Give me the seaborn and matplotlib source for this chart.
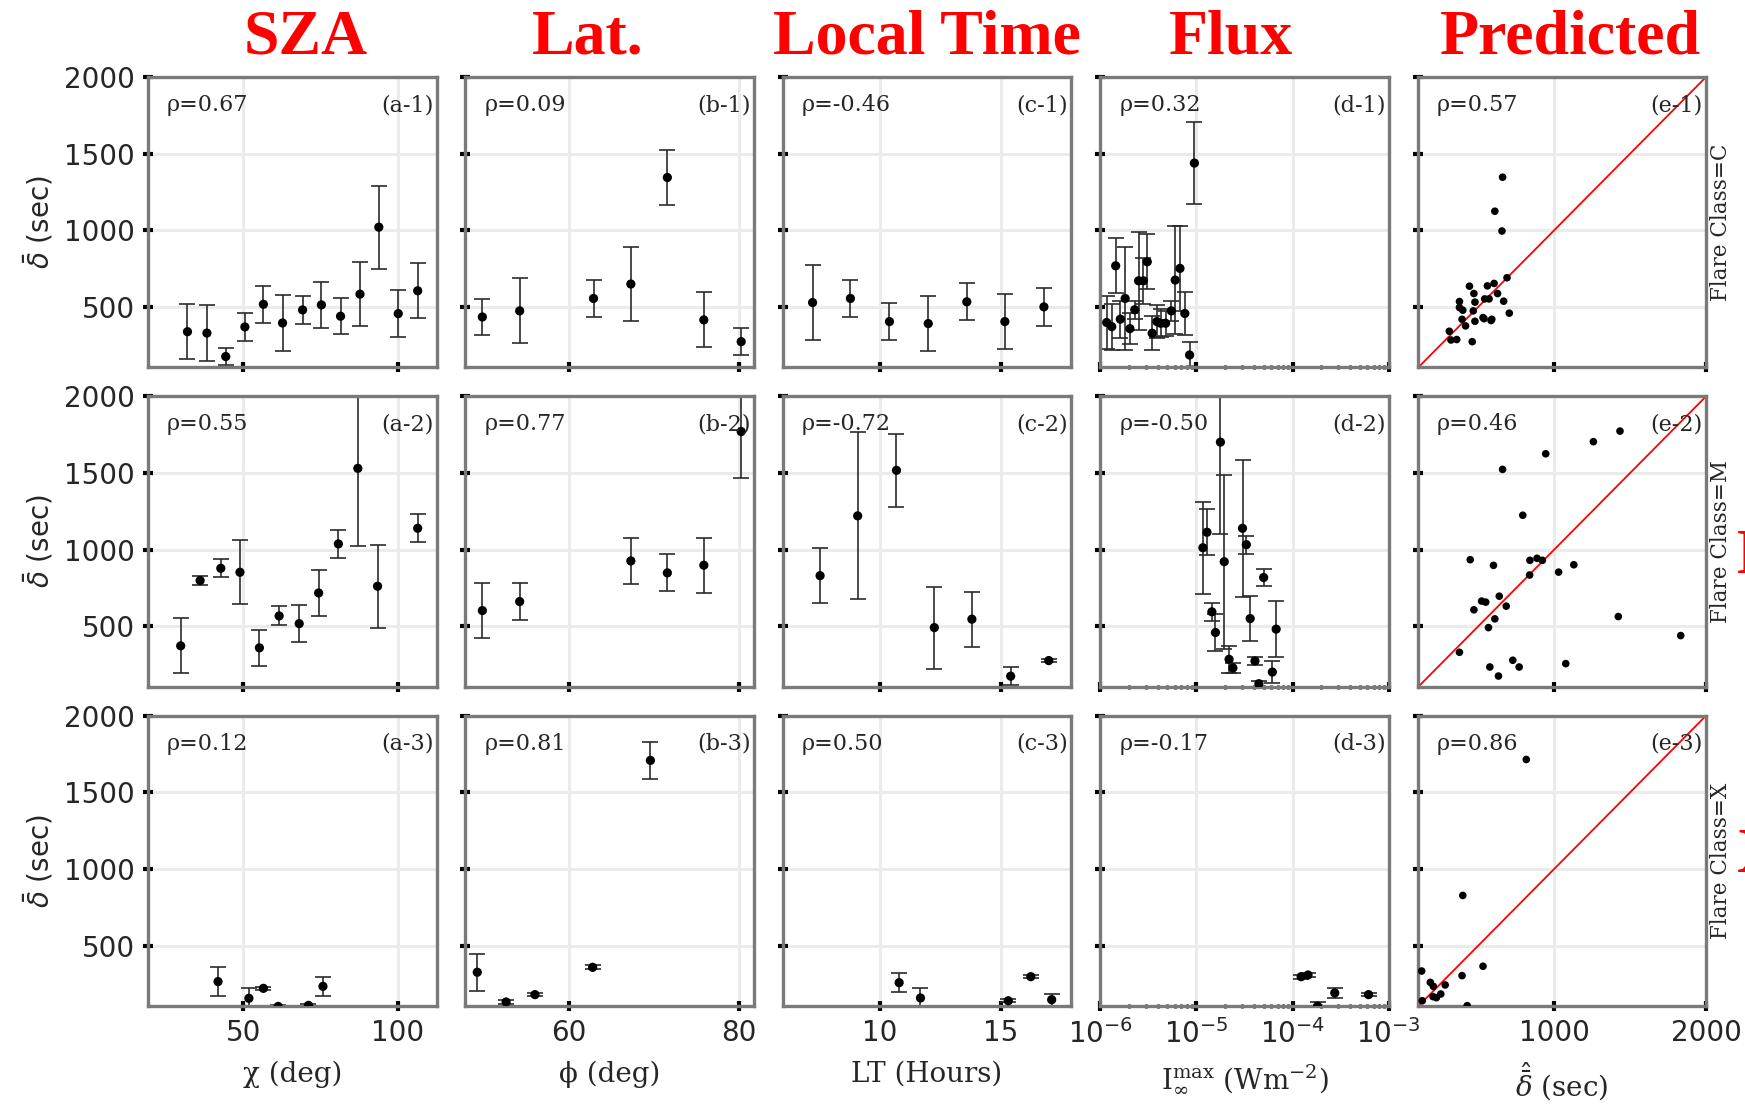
import numpy as np
import pandas as pd
import matplotlib
matplotlib.use("Agg")
import matplotlib.pyplot as plt
import seaborn as sns
from matplotlib.ticker import LogLocator, NullFormatter, FixedLocator

# ---------------- data ----------------
# Column a : SZA (chi, deg)
a1_x = [31.9, 38.2, 44.3, 50.5, 56.5, 62.7, 69.2, 75.3, 81.5, 87.8, 93.9, 100.2, 106.5]
a1_y = [338, 329, 176, 369, 517, 395, 480, 513, 439, 583, 1020, 456, 605]
a1_e = [180, 182, 58, 90, 121, 180, 91, 150, 119, 209, 271, 152, 180]
a2_x = [29.7, 36.0, 42.7, 48.9, 55.2, 61.6, 68.1, 74.4, 80.8, 87.1, 93.5, 106.5]
a2_y = [372, 798, 878, 852, 359, 567, 517, 717, 1037, 1530, 761, 1139]
a2_e = [180, 30, 60, 210, 118, 62, 121, 149, 90, 508, 270, 90]
a3_x = [41.8, 51.8, 56.5, 61.3, 71.1, 75.8]
a3_y = [265, 156, 221, 103, 110, 234]
a3_e = [92, 67, 8, 12, 6, 60]

# Column b : latitude (phi, deg)
b1_x = [49.8, 54.2, 62.9, 67.3, 71.6, 75.9, 80.3]
b1_y = [434, 474, 555, 649, 1344, 415, 273]
b1_e = [118, 212, 120, 240, 180, 180, 90]
b2_x = [49.8, 54.2, 67.3, 71.6, 75.9, 80.3]
b2_y = [602, 661, 926, 848, 898, 1770]
b2_e = [180, 121, 149, 121, 180, 305]
b3_x = [49.2, 52.6, 56.0, 62.8, 69.6]
b3_y = [326, 132, 180, 358, 1708]
b3_e = [121, 10, 12, 12, 121]

# Column c : local time (hours)
c1_x = [7.23, 8.79, 10.4, 12.0, 13.59, 15.16, 16.77]
c1_y = [528, 555, 404, 391, 533, 404, 500]
c1_e = [243, 122, 121, 180, 120, 179, 122]
c2_x = [5.75, 7.54, 9.09, 10.69, 12.25, 13.8, 15.4, 16.97]
c2_y = [926, 830, 1220, 1517, 491, 546, 174, 276]
c2_e = [117, 180, 545, 240, 268, 179, 59, 8]
c3_x = [10.8, 11.68, 15.3, 16.23, 17.09]
c3_y = [258, 158, 140, 297, 147]
c3_e = [63, 63, 10, 8, 38]

# Column d : peak flux (W m^-2)
d1_x = [1.17e-6, 1.32e-6, 1.45e-6, 1.62e-6, 1.82e-6, 2.04e-6, 2.29e-6, 2.51e-6, 2.82e-6, 3.09e-6,
        3.47e-6, 3.89e-6, 4.27e-6, 4.79e-6, 5.50e-6, 6.03e-6, 6.76e-6, 7.59e-6, 8.51e-6, 9.55e-6]
d1_y = [398, 371, 768, 420, 555, 358, 481, 670, 670, 794,
        328, 404, 393, 393, 474, 675, 751, 457, 186, 1438]
d1_e = [175, 150, 180, 120, 338, 100, 60, 320, 150, 180,
        110, 105, 90, 80, 65, 355, 278, 140, 86, 270]
d2_x = [1.17e-5, 1.29e-5, 1.45e-5, 1.58e-5, 1.78e-5, 1.95e-5, 2.19e-5, 2.40e-5,
        3.02e-5, 3.31e-5, 3.63e-5, 4.07e-5, 4.47e-5, 5.01e-5, 6.17e-5, 6.76e-5]
d2_y = [1012, 1113, 594, 459, 1701, 921, 284, 228, 1139, 1032, 550, 273, 125, 818, 201, 481]
d2_e = [300, 150, 60, 120, 600, 567, 87, 33, 447, 58, 147, 27, 20, 58, 70, 181]
d3_x = [1.23e-4, 1.45e-4, 1.82e-4, 2.75e-4, 6.17e-4]
d3_y = [297, 308, 105, 191, 180]
d3_e = [12, 12, 25, 30, 10]

# Column e : predicted vs observed
e1_x = [660, 609, 656, 689, 442, 560, 604, 471, 627, 542, 571, 376, 478, 667, 376,
        398, 467, 704, 393, 478, 531, 584, 416, 309, 320, 358, 460, 538, 589]
e1_y = [1346, 1124, 995, 690, 635, 637, 653, 587, 587, 552, 552, 535, 531, 537, 496,
        478, 474, 459, 419, 406, 430, 411, 376, 341, 284, 287, 273, 423, 419]
e2_x = [1433, 1258, 944, 660, 793, 447, 600, 840, 887, 922, 838, 1029, 1129, 638,
        522, 549, 684, 471, 609, 567, 1422, 1833, 376, 727, 576, 769, 1076, 633]
e2_y = [1773, 1704, 1625, 1523, 1224, 934, 897, 930, 943, 930, 834, 853, 901, 696,
        664, 657, 631, 607, 548, 491, 563, 439, 330, 278, 234, 234, 256, 175]
e3_x = [816, 398, 531, 393, 127, 184, 204, 282, 253, 224, 202, 131, 427]
e3_y = [1714, 827, 365, 304, 334, 260, 234, 243, 184, 160, 167, 140, 108]

rho_values = [["0.67", "0.09", "-0.46", "0.32", "0.57"],
              ["0.55", "0.77", "-0.72", "-0.50", "0.46"],
              ["0.12", "0.81", "0.50", "-0.17", "0.86"]]
col_titles = ["SZA", "Lat.", "Local Time", "Flux", "Predicted"]
col_title_x = [0.175, 0.3365, 0.531, 0.7057, 0.900]
row_labels = ["Flare Class=C", "Flare Class=M", "Flare Class=X"]
x_labels = ["χ (deg)", "ϕ (deg)", "LT (Hours)",
            r"$\mathrm{I}_{\infty}^{\mathrm{max}}$ (Wm$^{-2}$)", r"$\hat{\bar{\delta}}$ (sec)"]
col_letters = ["a", "b", "c", "d", "e"]
y_ticks = [500, 1000, 1500, 2000]
x_ticks = [[50, 100], [60, 80], [10, 15], [1e-6, 1e-5, 1e-4, 1e-3], [1000, 2000]]
x_limits = [(19.1, 112.6), (47.8, 81.8), (6.0, 17.9), (1e-6, 1e-3), (100, 2000)]
y_limits = (106, 2000)

err_panels = {
    (0, 0): (a1_x, a1_y, a1_e), (1, 0): (a2_x, a2_y, a2_e), (2, 0): (a3_x, a3_y, a3_e),
    (0, 1): (b1_x, b1_y, b1_e), (1, 1): (b2_x, b2_y, b2_e), (2, 1): (b3_x, b3_y, b3_e),
    (0, 2): (c1_x, c1_y, c1_e), (1, 2): (c2_x, c2_y, c2_e), (2, 2): (c3_x, c3_y, c3_e),
    (0, 3): (d1_x, d1_y, d1_e), (1, 3): (d2_x, d2_y, d2_e), (2, 3): (d3_x, d3_y, d3_e),
}
scatter_panels = {0: (e1_x, e1_y), 1: (e2_x, e2_y), 2: (e3_x, e3_y)}

# ---------------- style ----------------
sns.set_theme(style="whitegrid")
plt.rcParams["font.family"] = ["DejaVu Sans"]
plt.rcParams["axes.grid"] = True

SERIF = "DejaVu Serif"
fig, axes = plt.subplots(3, 5, figsize=(17.45, 11.04), dpi=100)
fig.subplots_adjust(left=0.0848, right=0.9777, top=0.9303, bottom=0.0888,
                    wspace=0.1, hspace=0.1)

for r in range(3):
    for c in range(5):
        ax = axes[r, c]
        ax.set_facecolor("white")
        if c == 3:
            ax.set_xscale("log")
        if c < 4:
            xs, ys, es = err_panels[(r, c)]
            df = pd.DataFrame({"x": xs, "y": ys, "err": es})
            ax.errorbar(df["x"], df["y"], yerr=df["err"], fmt="none",
                        ecolor="#2b2b2b", elinewidth=1.2, capsize=5.5,
                        capthick=1.2, zorder=2)
            sns.scatterplot(data=df, x="x", y="y", ax=ax, color="black",
                            s=44, edgecolor="none", zorder=3, legend=False)
        else:
            xs, ys = scatter_panels[r]
            df = pd.DataFrame({"x": xs, "y": ys})
            ax.plot([100, 2000], [100, 2000], color="red", lw=1.3, zorder=2)
            sns.scatterplot(data=df, x="x", y="y", ax=ax, color="black",
                            s=30, edgecolor="none", zorder=3, legend=False)

        ax.set_xlim(*x_limits[c])
        ax.set_ylim(*y_limits)
        ax.xaxis.set_major_locator(FixedLocator(x_ticks[c]))
        ax.yaxis.set_major_locator(FixedLocator(y_ticks))
        if c == 3:
            ax.xaxis.set_minor_locator(LogLocator(base=10, subs=np.arange(2, 10)))
            ax.xaxis.set_minor_formatter(NullFormatter())
        ax.grid(True, which="major", color="#ebebeb", lw=2.2)
        ax.grid(False, which="minor")
        ax.set_axisbelow(True)
        for sp in ax.spines.values():
            sp.set_visible(True)
            sp.set_color("#7a7a7a")
            sp.set_linewidth(2.4)
        ax.tick_params(which="major", direction="inout", length=6.5, width=3,
                       color="black", left=True, bottom=True, pad=6,
                       labelsize=20)
        ax.tick_params(which="minor", direction="inout", length=2.5, width=2,
                       color="black", bottom=True, left=False)
        if c != 0:
            ax.tick_params(labelleft=False)
        if r != 2:
            ax.tick_params(labelbottom=False)
        ax.set_xlabel("")
        ax.set_ylabel("")
        if c == 0:
            ax.set_ylabel(r"$\bar{\delta}$ (sec)", fontsize=20, labelpad=6)
        if r == 2:
            ax.set_xlabel(x_labels[c], fontsize=20, family=SERIF,
                          math_fontfamily="dejavuserif", labelpad=10)
        ax.text(0.066, 0.903, "ρ=" + rho_values[r][c], transform=ax.transAxes,
                family=SERIF, fontsize=16, ha="left", va="center")
        ax.text(0.989, 0.903, "(%s-%d)" % (col_letters[c], r + 1),
                transform=ax.transAxes, family=SERIF, fontsize=16,
                ha="right", va="center")
        if c == 4:
            ax.text(1.05, 0.5, row_labels[r], transform=ax.transAxes,
                    rotation=90, family=SERIF, fontsize=15.5,
                    ha="center", va="center")

for t, xpos in zip(col_titles, col_title_x):
    fig.text(xpos, 0.9515, t, ha="center", va="baseline", color="#ff0000",
             fontsize=46, fontweight="bold", family="Liberation Serif")

# red row markers, only partly inside the figure (as in the reference)
fig.text(0.9955, 0.4946, "M", ha="left", va="center", color="#ff0000",
         fontsize=46, fontweight="bold", family="Liberation Serif")
fig.text(0.9955, 0.2237, "X", ha="left", va="center", color="#ff0000",
         fontsize=46, fontweight="bold", family="Liberation Serif")

fig.savefig("out.png", dpi=100, facecolor="white")
